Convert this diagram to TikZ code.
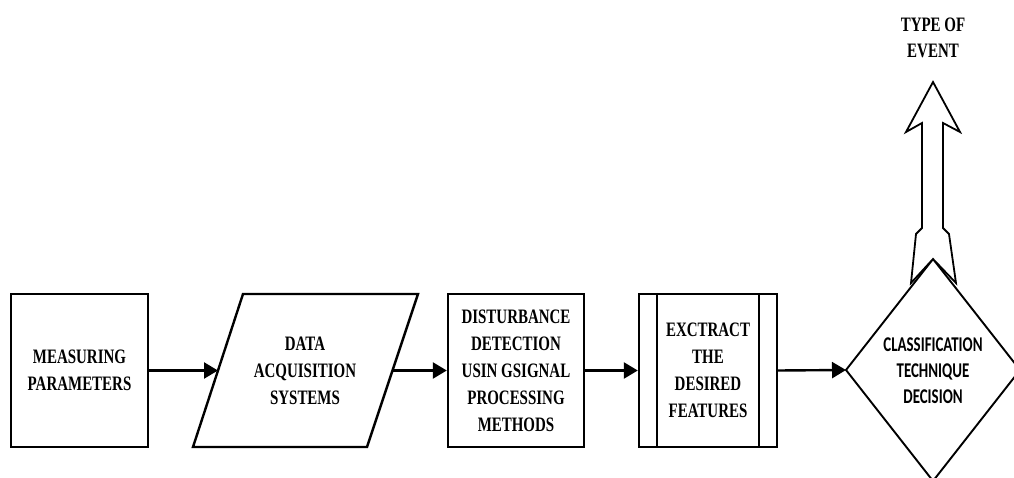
\documentclass[tikz,border=0pt]{standalone}
\usepackage{fontspec}
\usetikzlibrary{arrows.meta}
\newfontfamily\boxfont[FakeStretch=0.73]{Liberation Serif}
\newfontfamily\calfont[FakeStretch=0.71]{Carlito}
\begin{document}
\begin{tikzpicture}[x=1pt,y=-1pt,
  label/.style={align=center,inner sep=0pt,font=\boxfont\bfseries\fontsize{20.5}{27}\selectfont},
  stagebox/.style={draw,line width=2.4pt,minimum height=153pt,label},
  outline/.style={draw,line width=2.4pt,line join=miter},
  flow/.style={line width=2.4pt,-{Triangle[length=14pt,width=16pt]}}]
  \useasboundingbox (0,0) rectangle (1014,478);
  \clip (0,0) rectangle (1014,478);

  % measuring block
  \node[stagebox,minimum width=137pt] (meas) at (79.5,370.5) {MEASURING\\PARAMETERS};

  % data acquisition (parallelogram)
  \draw[outline] (243,294) -- (418,294) -- (367,447) -- (193,447) -- cycle;
  \node[label] (daq) at (305,370.5) {DATA\\ACQUISITION\\SYSTEMS};
  \coordinate (daqW) at (218,370.5);
  \coordinate (daqE) at (392.5,370.5);

  % disturbance detection
  \node[stagebox,minimum width=136pt] (dist) at (516,370.5)
    {DISTURBANCE\\DETECTION\\USIN GSIGNAL\\PROCESSING\\METHODS};

  % feature extraction (predefined process)
  \node[stagebox,minimum width=138pt] (feat) at (708,370.5)
    {EXCTRACT\\THE\\DESIRED\\FEATURES};
  \draw[line width=1.4pt] ([xshift=-51pt]feat.north) -- ([xshift=-51pt]feat.south)
                          ([xshift=51pt]feat.north) -- ([xshift=51pt]feat.south);

  % classification decision (diamond)
  \coordinate (clsW) at (846,370);
  \coordinate (clsN) at (933,259);
  \coordinate (clsE) at (1020,370);
  \coordinate (clsS) at (933,481);
  \draw[line width=1.9pt] (clsW) -- (clsN) -- (clsE) -- (clsS) -- cycle;
  \node[align=center,inner sep=0pt,font=\calfont\bfseries\fontsize{21}{26}\selectfont]
    (cls) at (933,371) {CLASSIFICATION\\TECHNIQUE\\DECISION};

  % output block arrow
  \draw[line width=1.8pt,fill=white,line join=miter]
    (933,82) -- (960,132) -- (943,123) -- (943,228) -- (949,234) -- (956,283)
    -- (clsN) -- (911,283) -- (916,234) -- (922,228) -- (922,123) -- (906,132) -- cycle;
  \node[label,font=\boxfont\bfseries\fontsize{20.5}{26}\selectfont] (event) at (933,38) {TYPE OF\\EVENT};

  % flow connectors
  \draw[flow] (meas.east) -- (daqW);
  \draw[flow] (daqE) -- (dist.west);
  \draw[flow] (dist.east) -- (feat.west);
  \draw[flow] (feat.east) -- (clsW);
\end{tikzpicture}
\end{document}
